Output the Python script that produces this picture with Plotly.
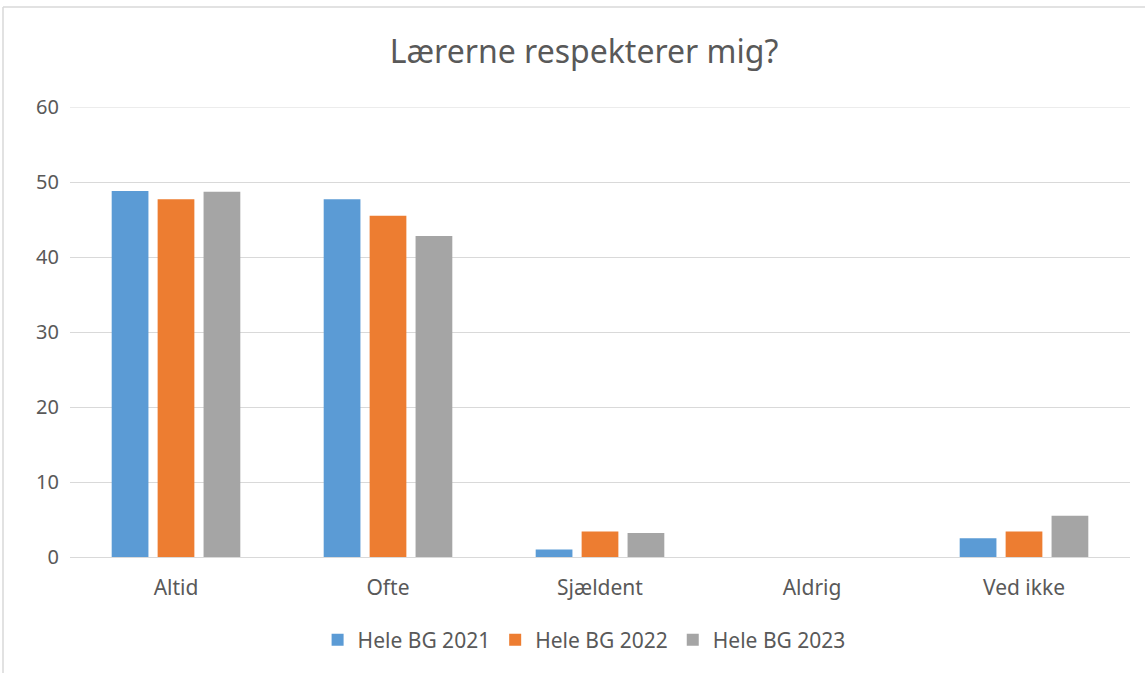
import plotly.graph_objects as go

# Data
categories = ["Altid", "Ofte", "Sjældent", "Aldrig", "Ved ikke"]
series_names = ["Hele BG 2021", "Hele BG 2022", "Hele BG 2023"]
values_2021 = [48.8, 47.7, 1.0, 0, 2.5]
values_2022 = [47.7, 45.5, 3.4, 0, 3.4]
values_2023 = [48.7, 42.8, 3.2, 0, 5.5]
colors = ["#5B9BD5", "#ED7D31", "#A5A5A5"]

TEXT = "#595959"
GRID = "#D9D9D9"
FONT = "Noto Sans, Open Sans, sans-serif"

fig = go.Figure()
for name, vals, col in zip(series_names, [values_2021, values_2022, values_2023], colors):
    fig.add_trace(go.Bar(
        x=categories, y=vals, name=name,
        marker=dict(color=col, line=dict(width=0)),
    ))

fig.update_layout(
    width=1145, height=673,
    margin=dict(l=70, r=15, t=107, b=116),
    paper_bgcolor="white", plot_bgcolor="white",
    font=dict(family=FONT, color=TEXT, size=20),
    title=dict(text="Lærerne respekterer mig?", x=584 / 1145, xanchor="center",
               y=1 - 52 / 673, yanchor="middle", font=dict(size=32, color=TEXT)),
    barmode="group", bargap=0.35, bargroupgap=0.2,
    xaxis=dict(showgrid=False, showline=True, linecolor=GRID, linewidth=1,
               ticks="", ticklabelstandoff=12, tickfont=dict(size=21, color=TEXT)),
    yaxis=dict(range=[0, 60], tickvals=[0, 10, 20, 30, 40, 50, 60],
               showgrid=True, gridcolor=GRID,
               gridwidth=1, zeroline=False, showline=False, ticks="",
               ticklabelstandoff=10, tickfont=dict(size=20, color=TEXT)),
    legend=dict(orientation="h", x=0.485, xanchor="center", y=-(640 - 557) / 450,
                yanchor="middle", font=dict(size=21, color=TEXT),
                itemwidth=30, traceorder="normal"),
    shapes=[
        # top gridline at 60 (plotly drops it at the range edge)
        dict(type="line", xref="paper", yref="y", x0=0, x1=1, y0=60, y1=60,
             line=dict(color=GRID, width=1), layer="below"),
        dict(type="line", xref="paper", yref="paper",
             x0=(3 - 70) / 1060, x1=1.05, y0=(557 - 7) / 450, y1=(557 - 7) / 450,
             line=dict(color=GRID, width=1.5)),
        dict(type="line", xref="paper", yref="paper",
             x0=(3 - 70) / 1060, x1=(3 - 70) / 1060, y0=(557 - 7) / 450, y1=-0.4,
             line=dict(color=GRID, width=1.5)),
    ],
)

fig.write_html("out.html", config={"displayModeBar": False},
               post_script="document.body.style.margin='0';")
